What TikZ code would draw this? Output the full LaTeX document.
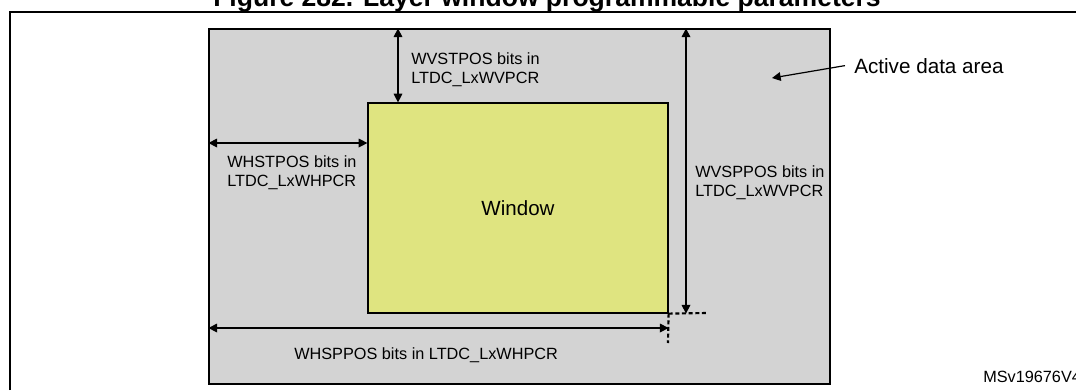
\documentclass[tikz,border=0pt]{standalone}
\usepackage{fontspec}
\setmainfont{Liberation Sans}
\usetikzlibrary{arrows.meta, positioning}
\definecolor{areagray}{RGB}{211,211,211}
\definecolor{winyellow}{RGB}{223,228,128}

\begin{document}
\begin{tikzpicture}[
    x=0.75pt, y=-0.75pt,
    area/.style={rectangle, draw=black, fill=areagray, line width=0.9pt, inner sep=0pt, minimum width=465.75pt, minimum height=266.25pt},
    winbox/.style={rectangle, draw=black, fill=winyellow, line width=0.9pt, inner sep=0pt, minimum width=225pt, minimum height=157.5pt, font=\fontsize{15.4}{18}\selectfont},
    lbl/.style={align=left, inner sep=0pt, font=\fontsize{12.2}{14.25}\selectfont},
    dim/.style={line width=0.9pt, {Triangle[length=6.5pt,width=6.5pt]}-{Triangle[length=6.5pt,width=6.5pt]}},
    ptr/.style={line width=0.9pt, -{Triangle[length=6.5pt,width=6.5pt]}},
    guide/.style={line width=1.6pt, dash pattern=on 3pt off 2pt}
]
\useasboundingbox (0,0) rectangle (1076,390);

% Frame and title
\draw [line width=1.1pt] (10,390) -- (10,12) -- (1076,12);
\node [anchor=base west, inner sep=0pt, font=\bfseries\fontsize{19.9}{24}\selectfont] (title) at (213,6) {Figure 282. Layer window programmable parameters};

% Nodes
\node [area] (area) at (519.5,206.5) {};
\node [winbox] (win) at (518,208) {Window};

\coordinate (vstx) at (398,0);
\coordinate (hsty) at (0,143);
\coordinate (vspx) at (686,0);
\coordinate (hspy) at (0,328);
\coordinate (gh) at (707,313);
\coordinate (gv) at (668,343);
\coordinate (act) at (772,78);

\node [lbl, anchor=north west] (vstlbl) at (411,52) {WVSTPOS bits in\\LTDC\_LxWVPCR};
\node [lbl, anchor=north west] (hstlbl) at (227,155) {WHSTPOS bits in\\LTDC\_LxWHPCR};
\node [lbl, anchor=north west] (vsplbl) at (695,165) {WVSPPOS bits in\\LTDC\_LxWVPCR};
\node [lbl, anchor=base west] (hsplbl) at (294,359) {WHSPPOS bits in LTDC\_LxWHPCR};
\node [anchor=base west, inner sep=0pt, font=\fontsize{15.5}{18}\selectfont] (actlbl) at (854,73) {Active data area};
\node [lbl, anchor=base west] (msv) at (983,382) {MSv19676V4};

% Connections
\draw [dim] (vstx |- area.north) -- (vstx |- win.north);
\draw [dim] (area.west |- hsty) -- (win.west |- hsty);
\draw [dim] (vspx |- area.north) -- (vspx |- win.south);
\draw [dim] (area.west |- hspy) -- (win.east |- hspy);
\draw [guide] (win.south east) -- (gh);
\draw [guide] (win.south east) -- (gv);
\draw [ptr] ([xshift=-6.75pt]actlbl.west) -- (act);
\end{tikzpicture}
\end{document}
